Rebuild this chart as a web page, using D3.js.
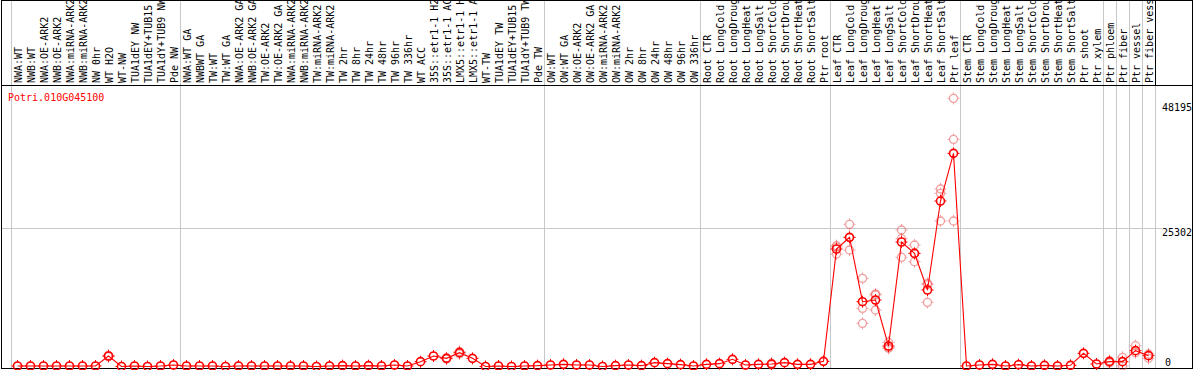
<!DOCTYPE html>
<html><head><meta charset="utf-8">
<script src="https://cdn.jsdelivr.net/npm/d3@7"></script>
<style>html,body{margin:0;padding:0;background:#fff;}svg{display:block;}</style>
</head><body>
<svg id="c" width="1194" height="370"></svg>
<script>
const title = "Potri.010G045100";
const labels = [
 "NWA:WT","NWB:WT","NWA:OE-ARK2","NWB:OE-ARK2","NWA:miRNA-ARK2","NWB:miRNA-ARK2","NW 0hr","WT H2O","WT-NW","TUA1dEY NW","TUA1dEY+TUB15 NW","TUA1dY+TUB9 NW","Pde NW",
 "NWA:WT GA","NWBWT GA","TW:WT","TW:WT GA","NWA:OE-ARK2 GA","NWB:OE-ARK2 GA","TW:OE-ARK2","TW:OE-ARK2 GA","NWA:miRNA-ARK2 GA","NWB:miRNA-ARK2 GA","TW:miRNA-ARK2","TW:miRNA-ARK2",
 "TW 2hr","TW 8hr","TW 24hr","TW 48hr","TW 96hr","TW 336hr","WT ACC","35S::etr1-1 H2O","35S::etr1-1 ACC","LMX5::etr1-1 H2O","LMX5::etr1-1 ACC","WT-TW","TUA1dEY TW","TUA1dEY+TUB15 TW","TUA1dY+TUB9 TW","Pde TW",
 "OW:WT","OW:WT GA","OW:OE-ARK2","OW:OE-ARK2 GA","OW:miRNA-ARK2","OW:miRNA-ARK2","OW 2hr","OW 8hr","OW 24hr","OW 48hr","OW 96hr","OW 336hr",
 "Root CTR","Root LongCold","Root LongDrought","Root LongHeat","Root LongSalt","Root ShortCold","Root ShortDrought","Root ShortHeat","Root ShortSalt","Ptr root",
 "Leaf CTR","Leaf LongCold","Leaf LongDrought","Leaf LongHeat","Leaf LongSalt","Leaf ShortCold","Leaf ShortDrought","Leaf ShortHeat","Leaf ShortSalt","Ptr leaf",
 "Stem CTR","Stem LongCold","Stem LongDrought","Stem LongHeat","Stem LongSalt","Stem ShortCold","Stem ShortDrought","Stem ShortHeat","Stem ShortSalt","Ptr shoot","Ptr xylem",
 "Ptr phloem","Ptr fiber","Ptr vessel","Ptr fiber vessel"
];
const means = [
 92,92,92,92,92,92,92,1922,0,92,0,92,275,
 92,92,92,0,92,92,92,92,92,92,0,92,153,92,153,92,275,92,885,1922,1495,2533,1495,0,92,0,92,153,
 275,397,275,275,0,153,275,153,702,519,336,92,
 397,519,1312,275,397,458,702,397,397,946,
 21513,23649,11870,12175,3753,22795,20719,14006,30301,39028,
 92,275,397,92,336,92,214,92,214,2411,458,
 885,885,2899,1983
];
// replicate measurements (only where distinguishable from the mean)
const repCols = [7,33,34,58,63,64,65,66,67,68,69,70,71,72,84,85,86,87];
const repVals = [
 [1800,2050],[1400,1600],[2300,2750],[300,600],
 [22123,20597,21900],[26029,21330,23600],[16143,10650,7903],[13090,10344,13300],[4425,3326,3500],
 [24992,19987,23400],[22245,19193,20700],[15227,11748,15000],[32498,31705,26640],[49098,41592,26640],
 [1068,650],[1678,92],[3814,2533],[2289,1495]
];
const groupBreaks = [0,13,41,53,63,73,84,85,86,87,88];
const yTicks = [48195,25302,0];
const gridTicks = [25302];

const svg = d3.select("#c");
const W = 1194, H = 370;
const x = d3.scaleBand().domain(d3.range(labels.length)).range([11,1155]).padding(0);
const cx = i => x(i) + x.bandwidth()/2;
const y = d3.scaleLinear().domain([0,48195]).range([366.5,103.3]);
const FONT = "'DejaVu Sans Mono', monospace";

// clip for labels
svg.append("defs").append("clipPath").attr("id","lc")
  .append("rect").attr("x",0).attr("y",1).attr("width",1155).attr("height",84);

const grid = svg.append("g").attr("shape-rendering","crispEdges");
// horizontal gridline
grid.selectAll("line.h").data(gridTicks).join("line")
  .attr("x1",1).attr("x2",1162).attr("y1",d=>Math.round(y(d))+0.5).attr("y2",d=>Math.round(y(d))+0.5)
  .attr("stroke","#c8c8c8").attr("stroke-width",1);
// group separators
grid.selectAll("line.v").data(groupBreaks).join("line")
  .attr("x1",d=>(d<labels.length? x(d) : 1155)+0.5).attr("x2",d=>(d<labels.length? x(d) : 1155)+0.5)
  .attr("y1",0).attr("y2",368)
  .attr("stroke","#c8c8c8").attr("stroke-width",1);
// borders
grid.append("rect").attr("x",1.5).attr("y",0.5).attr("width",1191).attr("height",368)
  .attr("fill","none").attr("stroke","#000");
grid.append("line").attr("x1",1).attr("x2",1193).attr("y1",85.5).attr("y2",85.5).attr("stroke","#000");
grid.append("line").attr("x1",1155.5).attr("x2",1155.5).attr("y1",0).attr("y2",85).attr("stroke","#000");

// column labels
svg.append("g").attr("clip-path","url(#lc)")
  .selectAll("text").data(labels).join("text")
  .attr("transform",(d,i)=>`translate(${cx(i)+4.5},83) rotate(-90)`)
  .attr("font-family",FONT).attr("font-size",10).attr("fill","#000")
  .text(d=>d);

// title
svg.append("text").attr("x",8).attr("y",101).attr("font-family",FONT).attr("font-size",10)
  .attr("fill","#ff0000").text(title);

// right axis labels
svg.selectAll("text.yt").data(yTicks).join("text").attr("class","yt")
  .attr("x",d=> d===0 ? 1165 : 1162)
  .attr("y",d=>Math.min(y(d)+8,365.5))
  .attr("font-family",FONT).attr("font-size",10).attr("fill","#000")
  .text(d=>d);

function marker(g, color, sw){
  g.append("circle").attr("r",4).attr("fill","none").attr("stroke",color).attr("stroke-width",sw);
  g.append("path").attr("d","M0,-6V-3.5M0,3.5V6M-6,0H-3.5M3.5,0H6").attr("stroke",color).attr("stroke-width",1);
}

// replicates
const reps = [];
repCols.forEach((c,k)=>repVals[k].forEach(v=>reps.push({c,v})));
svg.append("g").selectAll("g").data(reps).join("g")
  .attr("transform",d=>`translate(${cx(d.c)},${y(d.v)})`)
  .attr("opacity",0.55)
  .each(function(){ marker(d3.select(this),"#e85050",1.3); });

// mean line
svg.append("path").datum(means)
  .attr("d", d3.line().x((d,i)=>cx(i)).y(d=>y(d)))
  .attr("fill","none").attr("stroke","#ff0000").attr("stroke-width",1.1);

// mean markers
svg.append("g").selectAll("g").data(means).join("g")
  .attr("transform",(d,i)=>`translate(${cx(i)},${y(d)})`)
  .each(function(){ marker(d3.select(this),"#ff0000",1.6); });
</script>
</body></html>
